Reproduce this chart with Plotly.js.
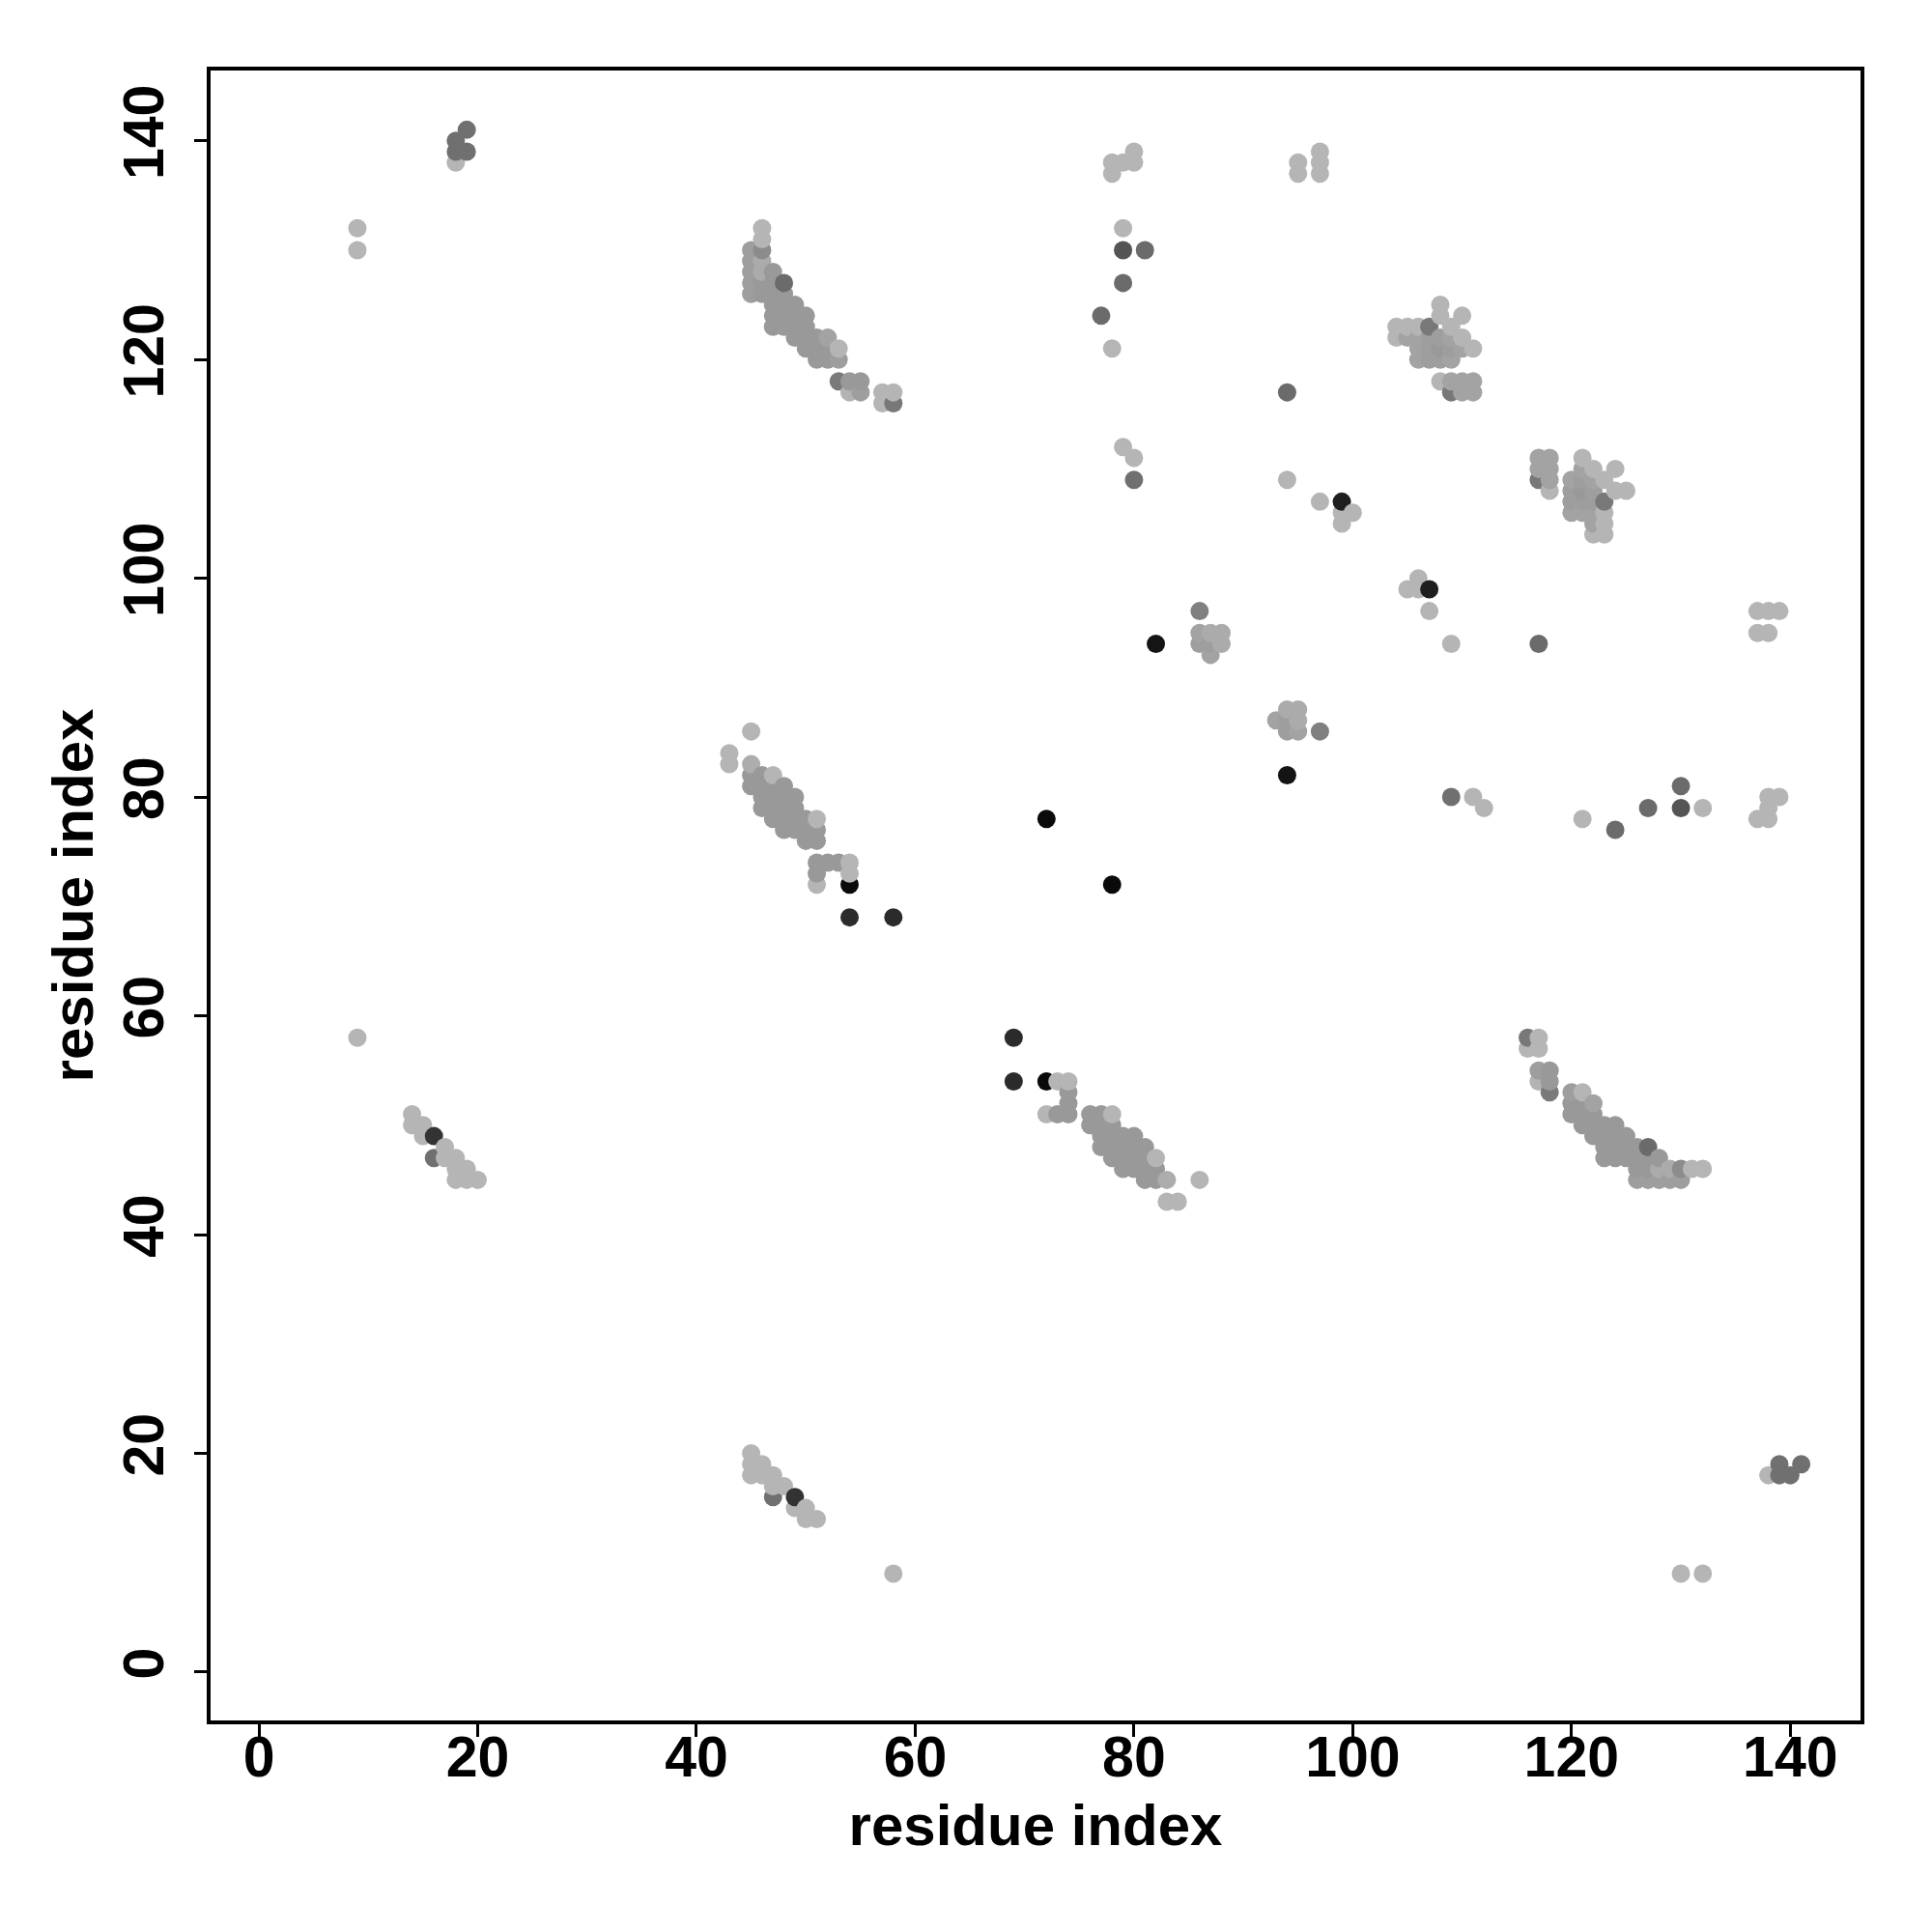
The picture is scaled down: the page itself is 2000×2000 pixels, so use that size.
<!DOCTYPE html>
<html>
<head>
<meta charset="utf-8">
<script src="https://cdn.plot.ly/plotly-3.0.1.min.js"></script>
<style>html,body{margin:0;padding:0;background:#fff;}</style>
</head>
<body>
<div id="chart" style="width:2000px;height:2000px;"></div>
<script>
// Contact pairs (i < j); the map is symmetric, each pair drawn at (i,j) and (j,i)
const contactI = [
  9, 9, 9,
  18, 18, 18, 19, 19,
  14, 14, 15, 15, 16, 16, 17, 17, 18, 18, 19, 18, 19, 20,
  45, 45, 45, 45, 45, 46, 46, 46, 46, 46, 46, 46,
  47, 47, 47, 47, 47, 47, 48, 48, 48, 48, 48,
  49, 49, 49, 49, 50, 50, 50, 50, 51, 51, 51, 52, 52, 52, 53, 53,
  53, 54, 55, 54, 55, 57, 58, 57, 58,
  43, 43, 45, 45, 45, 45, 46, 46, 46, 46,
  47, 47, 47, 47, 47, 48, 48, 48, 48, 48, 49, 49, 49, 49,
  50, 50, 50, 51, 51, 51, 51, 51, 51, 52, 53, 54, 54, 54, 54, 58,
  72,
  78, 78, 79, 80, 80, 79, 79, 81, 79, 77, 78, 79, 80, 80,
  95, 95, 97, 97, 97,
  94, 94, 97, 99, 99, 99, 100,
  82, 86, 86, 87, 88, 86, 87, 88, 87,
  108, 108, 110, 104, 105, 106, 107, 109, 104, 105, 106, 107, 108, 109, 110,
  106, 107, 108, 109, 110, 111, 106, 107, 108, 109, 108, 109, 110, 111, 109, 110, 111
];
const contactJ = [
  58, 130, 132,
  138, 139, 140, 139, 141,
  51, 50, 50, 49, 49, 47, 48, 47, 47, 46, 46, 45, 45, 45,
  130, 129, 128, 127, 126, 132, 131, 130, 129, 128, 127, 126,
  128, 127, 126, 125, 124, 123, 127, 126, 125, 124, 123,
  125, 124, 123, 122, 124, 123, 122, 121, 122, 121, 120, 122, 121, 120, 121, 120,
  118, 118, 118, 117, 117, 117, 117, 116, 116,
  84, 83, 86, 83, 82, 81, 82, 81, 80, 79,
  82, 81, 80, 79, 78, 81, 80, 79, 78, 77, 80, 79, 78, 77,
  78, 77, 76, 78, 77, 76, 74, 73, 72, 74, 74, 74, 73, 72, 69, 69,
  78,
  138, 137, 138, 139, 138, 132, 130, 130, 127, 124, 121, 112, 111, 109,
  138, 137, 139, 138, 137,
  117, 109, 107, 107, 106, 105, 106,
  94, 97, 95, 95, 95, 94, 94, 94, 93,
  125, 124, 124, 123, 123, 123, 123, 123, 122, 122, 122, 122, 122, 122, 122,
  121, 121, 121, 121, 121, 121, 120, 120, 120, 120, 118, 118, 118, 118, 117, 117, 117
];
// contact strength (0 = white, 1 = black)
const contactScore = [
  0.29, 0.29, 0.29,
  0.29, 0.56, 0.56, 0.56, 0.56,
  0.29, 0.29, 0.29, 0.29, 0.80, 0.56, 0.29, 0.29, 0.29, 0.29, 0.29, 0.29, 0.29, 0.29,
  0.38, 0.38, 0.38, 0.38, 0.38, 0.29, 0.29, 0.45, 0.33, 0.33, 0.40, 0.40,
  0.40, 0.40, 0.40, 0.40, 0.40, 0.40, 0.58, 0.40, 0.40, 0.40, 0.40,
  0.40, 0.40, 0.40, 0.40, 0.40, 0.40, 0.40, 0.40, 0.40, 0.40, 0.40, 0.36, 0.40, 0.40, 0.29, 0.38,
  0.52, 0.40, 0.40, 0.30, 0.38, 0.29, 0.29, 0.29, 0.53,
  0.29, 0.29, 0.29, 0.32, 0.40, 0.40, 0.40, 0.40, 0.40, 0.40,
  0.29, 0.40, 0.40, 0.40, 0.40, 0.40, 0.40, 0.40, 0.40, 0.40, 0.40, 0.40, 0.40, 0.40,
  0.40, 0.40, 0.40, 0.29, 0.40, 0.40, 0.40, 0.40, 0.29, 0.40, 0.40, 0.29, 0.29, 0.96, 0.83, 0.83,
  0.96,
  0.29, 0.29, 0.29, 0.29, 0.29, 0.29, 0.67, 0.58, 0.58, 0.58, 0.29, 0.29, 0.29, 0.56,
  0.29, 0.29, 0.29, 0.29, 0.29,
  0.58, 0.29, 0.29, 0.88, 0.29, 0.29, 0.29,
  0.92, 0.50, 0.36, 0.33, 0.33, 0.38, 0.38, 0.33, 0.36,
  0.29, 0.29, 0.29, 0.29, 0.29, 0.29, 0.53, 0.29, 0.29, 0.36, 0.36, 0.38, 0.38, 0.36, 0.29,
  0.36, 0.38, 0.40, 0.38, 0.36, 0.29, 0.36, 0.38, 0.38, 0.36, 0.29, 0.36, 0.36, 0.36, 0.53, 0.36, 0.36
];
const tickValues = [0, 20, 40, 60, 80, 100, 120, 140];
const axisLabel = 'residue index';

// build the symmetric point list, drawn in order of x then y
const pts = [];
for (let k = 0; k < contactI.length; k++) {
  pts.push([contactI[k], contactJ[k], contactScore[k]]);
  pts.push([contactJ[k], contactI[k], contactScore[k]]);
}
pts.sort((a, b) => (a[0] - b[0]) || (a[1] - b[1]));

const trace = {
  type: 'scatter',
  mode: 'markers',
  x: pts.map(p => p[0]),
  y: pts.map(p => p[1]),
  marker: {
    size: 19,
    color: pts.map(p => p[2]),
    cmin: 0, cmax: 1,
    colorscale: [[0, 'rgb(255,255,255)'], [1, 'rgb(0,0,0)']],
    showscale: false,
    line: {width: 0}
  },
  hoverinfo: 'x+y'
};

const fontFam = 'Liberation Sans, Arial, Helvetica, sans-serif';
const axisCommon = {
  range: [-4.42, 146.42],
  tickmode: 'array',
  tickvals: tickValues,
  ticktext: tickValues.map(String),
  ticks: 'outside',
  ticklen: 13,
  tickwidth: 3,
  tickcolor: '#000',
  showgrid: false,
  zeroline: false,
  showline: true,
  linewidth: 4,
  linecolor: '#000',
  mirror: true,
  automargin: false,
  tickfont: {family: fontFam, size: 59, weight: 700, color: '#000'}
};

const layout = {
  width: 2000,
  height: 2000,
  margin: {l: 218, r: 74, t: 73, b: 219, pad: 0},
  paper_bgcolor: '#fff',
  plot_bgcolor: '#fff',
  showlegend: false,
  font: {family: fontFam, color: '#000'},
  xaxis: Object.assign({}, axisCommon, {
    ticklabelstandoff: -30,
    title: {text: axisLabel, font: {family: fontFam, size: 60, weight: 700, color: '#000'}, standoff: 18}
  }),
  yaxis: Object.assign({}, axisCommon, {
    tickangle: -90,
    ticklabelstandoff: 8,
    title: {text: axisLabel, font: {family: fontFam, size: 60, weight: 700, color: '#000'}, standoff: 1}
  })
};

Plotly.newPlot('chart', [trace], layout, {staticPlot: true, displayModeBar: false});
</script>
</body>
</html>
